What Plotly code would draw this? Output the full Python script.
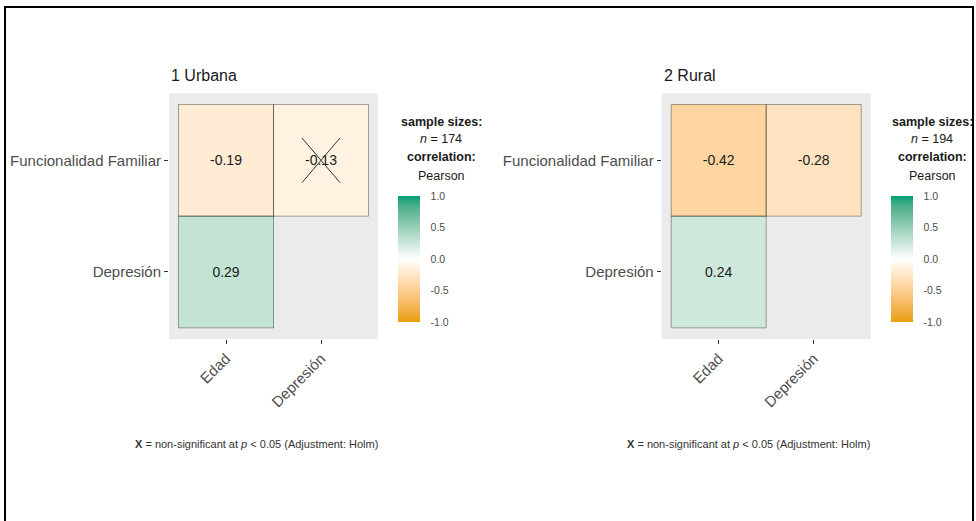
import plotly.graph_objects as go

# ---------------- data ----------------
x_vars = ["Edad", "Depresión"]
y_vars = ["Funcionalidad Familiar", "Depresión"]  # top to bottom
panel_titles = ["1 Urbana", "2 Rural"]
sample_sizes = [174, 194]
# correlation matrices (rows = y_vars top->bottom, cols = x_vars); None = empty
urbana_r = [[-0.19, -0.13], [0.29, None]]
rural_r = [[-0.42, -0.28], [0.24, None]]
urbana_ns = [[False, True], [False, False]]
rural_ns = [[False, False], [False, False]]
cbar_ticks = [-1.0, -0.5, 0.0, 0.5, 1.0]

# ---------------- colour scale (Lab interpolation like ggplot) ----------------
def _to_lin(c):
    c = c / 255.0
    return c / 12.92 if c <= 0.04045 else ((c + 0.055) / 1.055) ** 2.4

def _from_lin(c):
    c = max(0.0, min(1.0, c))
    v = 12.92 * c if c <= 0.0031308 else 1.055 * c ** (1 / 2.4) - 0.055
    return int(round(max(0, min(1, v)) * 255))

def rgb2lab(rgb):
    r, g, b = [_to_lin(v) for v in rgb]
    X = 0.4124 * r + 0.3576 * g + 0.1805 * b
    Y = 0.2126 * r + 0.7152 * g + 0.0722 * b
    Z = 0.0193 * r + 0.1192 * g + 0.9505 * b
    def f(t):
        return t ** (1 / 3) if t > 0.008856 else 7.787 * t + 16 / 116
    fx, fy, fz = f(X / 0.95047), f(Y), f(Z / 1.08883)
    return (116 * fy - 16, 500 * (fx - fy), 200 * (fy - fz))

def lab2rgb(lab):
    L, a, b = lab
    fy = (L + 16) / 116
    fx = fy + a / 500
    fz = fy - b / 200
    def finv(t):
        return t ** 3 if t ** 3 > 0.008856 else (t - 16 / 116) / 7.787
    X, Y, Z = 0.95047 * finv(fx), finv(fy), 1.08883 * finv(fz)
    r = 3.2406 * X - 1.5372 * Y - 0.4986 * Z
    g = -0.9689 * X + 1.8758 * Y + 0.0415 * Z
    bb = 0.0557 * X - 0.2040 * Y + 1.0570 * Z
    return "rgb(%d,%d,%d)" % (_from_lin(r), _from_lin(g), _from_lin(bb))

low, mid, high = (230, 159, 0), (255, 255, 255), (0, 158, 115)
lab_low, lab_mid, lab_high = rgb2lab(low), rgb2lab(mid), rgb2lab(high)
colorscale = []
N = 20
for i in range(N + 1):
    t = i / N
    if t <= 0.5:
        u = t / 0.5
        lab = tuple(lab_low[k] + (lab_mid[k] - lab_low[k]) * u for k in range(3))
    else:
        u = (t - 0.5) / 0.5
        lab = tuple(lab_mid[k] + (lab_high[k] - lab_mid[k]) * u for k in range(3))
    colorscale.append([t, lab2rgb(lab)])

# ---------------- layout geometry ----------------
W, H = 976, 521
FONT = "Liberation Sans, Arial, sans-serif"
x_domains = [[169 / W, 378 / W], [661.7 / W, 870.7 / W]]
y_domain = [1 - 339 / H, 1 - 93.3 / H]
cbar_x = [398 / W, 891 / W]
cbar_top, cbar_len, cbar_thick = 196, 126, 22
legend_cx = [441, 932]
caption_cx = [256, 748]

fig = go.Figure()

xs = [1, 2]
ys = [2, 1]  # top row at y=2

for p, (mat, ns) in enumerate([(urbana_r, urbana_ns), (rural_r, rural_ns)]):
    xa = "x" if p == 0 else "x2"
    ya = "y" if p == 0 else "y2"
    z = [mat[1], mat[0]]  # bottom -> top
    txt = [["" if v is None else "%.2f" % v for v in row] for row in z]
    fig.add_trace(go.Heatmap(
        x=xs, y=[1, 2], z=z, text=txt, texttemplate="%{text}",
        textfont=dict(size=14, color="#1A1A1A", family=FONT),
        colorscale=colorscale, zmin=-1, zmax=1, xaxis=xa, yaxis=ya,
        hoverinfo="skip",
        colorbar=dict(
            x=cbar_x[p], xanchor="left", y=1 - cbar_top / H, yanchor="top",
            len=cbar_len, lenmode="pixels", thickness=cbar_thick, thicknessmode="pixels",
            xpad=0, ypad=0, outlinewidth=0,
            tickvals=cbar_ticks, ticktext=["%.1f" % v for v in cbar_ticks],
            ticks="outside", ticklen=9, tickcolor="rgba(255,255,255,0)", tickwidth=1,
            tickfont=dict(size=10.5, color="#4D4D4D", family=FONT),
        ),
    ))
    # tile outlines
    ox, oy = [], []
    for i, row in enumerate(mat):
        for j, v in enumerate(row):
            if v is None:
                continue
            cx, cy = xs[j], ys[i]
            ox += [cx - 0.5, cx + 0.5, cx + 0.5, cx - 0.5, cx - 0.5, None]
            oy += [cy - 0.5, cy - 0.5, cy + 0.5, cy + 0.5, cy - 0.5, None]
    fig.add_trace(go.Scatter(x=ox, y=oy, mode="lines", xaxis=xa, yaxis=ya,
                             line=dict(color="rgba(0,0,0,0.35)", width=1),
                             hoverinfo="skip", showlegend=False))
    # non-significant crosses
    cxl, cyl = [], []
    for i, row in enumerate(ns):
        for j, flag in enumerate(row):
            if flag:
                cx, cy = xs[j], ys[i]
                cxl += [cx - 0.2, cx + 0.2, None, cx - 0.2, cx + 0.2, None]
                cyl += [cy + 0.2, cy - 0.2, None, cy - 0.2, cy + 0.2, None]
    if cxl:
        fig.add_trace(go.Scatter(x=cxl, y=cyl, mode="lines", xaxis=xa, yaxis=ya,
                                 line=dict(color="#333333", width=1),
                                 hoverinfo="skip", showlegend=False))

axis_common = dict(showgrid=False, zeroline=False, showline=False,
                   ticks="outside", ticklen=4, tickcolor="#333333", tickwidth=1,
                   tickfont=dict(size=15, color="#4D4D4D", family=FONT))
for p in range(2):
    sfx = "" if p == 0 else "2"
    fig.update_layout(**{
        "xaxis" + sfx: dict(domain=x_domains[p], range=[0.4, 2.6],
                            anchor="y" + sfx, tickvals=xs, ticktext=x_vars,
                            tickangle=-45, **axis_common),
        "yaxis" + sfx: dict(domain=y_domain, range=[0.4, 2.6],
                            anchor="x" + sfx, tickvals=ys, ticktext=y_vars,
                            **axis_common),
    })

annotations = []
for p in range(2):
    annotations.append(dict(x=x_domains[p][0], y=1 - 75 / H, xref="paper", yref="paper",
                            text=panel_titles[p], showarrow=False, xanchor="left",
                            yanchor="middle",
                            font=dict(size=16, color="#1A1A1A", family=FONT)))
    lines = [("<b>sample sizes:</b>", 122), ("<i>n</i> = %d" % sample_sizes[p], 139),
             ("<b>correlation:</b>", 157), ("Pearson", 176)]
    for t, yy in lines:
        annotations.append(dict(x=legend_cx[p] / W, y=1 - yy / H, xref="paper", yref="paper",
                                text=t, showarrow=False, xanchor="center", yanchor="middle",
                                font=dict(size=12.5, color="#1A1A1A", family=FONT)))
    annotations.append(dict(x=caption_cx[p] / W, y=1 - 444 / H, xref="paper", yref="paper",
                            text="<b>X</b> = non-significant at <i>p</i> &lt; 0.05 (Adjustment: Holm)",
                            showarrow=False, xanchor="center", yanchor="middle",
                            font=dict(size=11, color="#333333", family=FONT)))

shapes = [dict(type="rect", xref="paper", yref="paper",
               x0=5 / W, x1=973 / W, y0=-0.1, y1=1 - 7 / H,
               line=dict(color="black", width=2), layer="above")]

fig.update_layout(
    width=W, height=H, autosize=False,
    margin=dict(l=0, r=0, t=0, b=0),
    paper_bgcolor="white", plot_bgcolor="#EBEBEB",
    font=dict(family=FONT),
    annotations=annotations,
    shapes=shapes,
)

fig.write_html("out.html", config={"displayModeBar": False},
               post_script="document.body.style.margin='0';document.body.style.overflow='hidden';")
